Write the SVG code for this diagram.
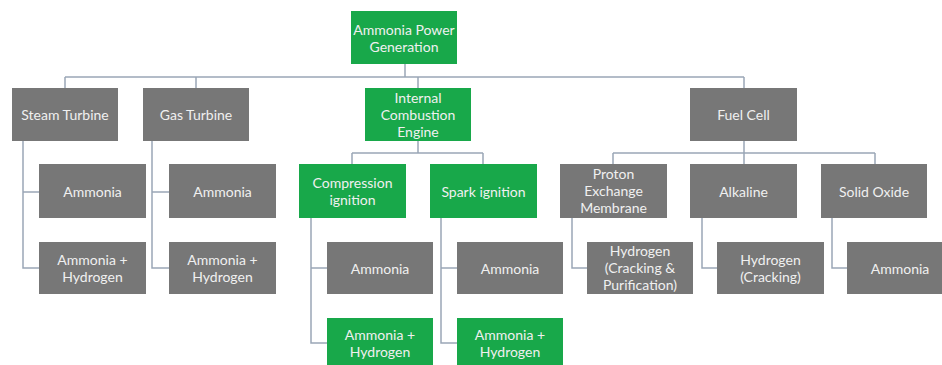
<svg xmlns="http://www.w3.org/2000/svg" width="942" height="365" viewBox="0 0 942 365">
<style>
.g{fill:#18a84a}
.k{fill:#777777}
text{font-family:Lato,"Liberation Sans",sans-serif;font-size:14px;fill:#f0f0f0;text-anchor:middle;dominant-baseline:central}
.c{fill:none;stroke:#9aa6b6;stroke-width:1.5}
</style>
<rect width="942" height="365" fill="#ffffff"/>
<g id="connectors" class="c">
<path d="M405 64V77M65 77H744M65 77V88M196 77V88M418 77V88M744 77V88"/>
<path d="M23 141V268H39M23 192H39"/>
<path d="M152 141V268H169M152 192H169"/>
<path d="M418 141V153M352 153H483M352 153V164M483 153V164"/>
<path d="M311 218V343H327M311 268H327"/>
<path d="M441 218V343H457M441 268H457"/>
<path d="M744 141V153M613 153H875M613 153V164M744 153V164M875 153V164"/>
<path d="M572 218V268H587"/>
<path d="M702 218V268H717"/>
<path d="M832 218V268H847"/>
</g>
<g id="root"><rect class="g" x="351" y="11" width="106" height="53"/><text x="404" y="29">Ammonia Power</text><text x="404" y="46">Generation</text></g>
<g id="steam"><rect class="k" x="12" y="88" width="106" height="53"/><text x="65" y="114.5">Steam Turbine</text></g>
<g id="gas"><rect class="k" x="143" y="88" width="106" height="53"/><text x="196" y="114.5">Gas Turbine</text></g>
<g id="ice"><rect class="g" x="365" y="88" width="106" height="53"/><text x="418" y="97.5">Internal</text><text x="418" y="114.5">Combustion</text><text x="418" y="131.5">Engine</text></g>
<g id="fuelcell"><rect class="k" x="690" y="88" width="107" height="53"/><text x="743.5" y="114.5">Fuel Cell</text></g>
<g id="steam-amm"><rect class="k" x="39" y="164" width="107" height="54"/><text x="92.5" y="191">Ammonia</text></g>
<g id="steam-ah"><rect class="k" x="39" y="242" width="107" height="52"/><text x="92.5" y="259.5">Ammonia +</text><text x="92.5" y="276.5">Hydrogen</text></g>
<g id="gas-amm"><rect class="k" x="169" y="164" width="107" height="54"/><text x="222.5" y="191">Ammonia</text></g>
<g id="gas-ah"><rect class="k" x="169" y="242" width="107" height="52"/><text x="222.5" y="259.5">Ammonia +</text><text x="222.5" y="276.5">Hydrogen</text></g>
<g id="ci"><rect class="g" x="299" y="164" width="107" height="54"/><text x="352.5" y="182.5">Compression</text><text x="352.5" y="199.5">ignition</text></g>
<g id="si"><rect class="g" x="430" y="164" width="107" height="54"/><text x="483.5" y="191">Spark ignition</text></g>
<g id="ci-amm"><rect class="k" x="327" y="242" width="106" height="52"/><text x="380" y="268">Ammonia</text></g>
<g id="ci-ah"><rect class="g" x="327" y="318" width="106" height="53"/><text x="380" y="334.5">Ammonia +</text><text x="380" y="351.5">Hydrogen</text></g>
<g id="si-amm"><rect class="k" x="457" y="242" width="106" height="52"/><text x="510" y="268">Ammonia</text></g>
<g id="si-ah"><rect class="g" x="457" y="318" width="106" height="53"/><text x="510" y="334.5">Ammonia +</text><text x="510" y="351.5">Hydrogen</text></g>
<g id="pem"><rect class="k" x="560" y="164" width="107" height="54"/><text x="613.5" y="173.5">Proton</text><text x="613.5" y="190.5">Exchange</text><text x="613.5" y="207.5">Membrane</text></g>
<g id="alk"><rect class="k" x="690" y="164" width="107" height="54"/><text x="743.5" y="191">Alkaline</text></g>
<g id="so"><rect class="k" x="821" y="164" width="106" height="54"/><text x="874" y="191">Solid Oxide</text></g>
<g id="pem-h"><rect class="k" x="587" y="242" width="106" height="52"/><text x="640" y="250.5">Hydrogen</text><text x="640" y="267.5">(Cracking &amp;</text><text x="640" y="284.5">Purification)</text></g>
<g id="alk-h"><rect class="k" x="717" y="242" width="107" height="52"/><text x="770.5" y="259.5">Hydrogen</text><text x="770.5" y="276.5">(Cracking)</text></g>
<g id="so-amm"><rect class="k" x="847" y="242" width="106" height="52"/><text x="900" y="268">Ammonia</text></g>
</svg>
